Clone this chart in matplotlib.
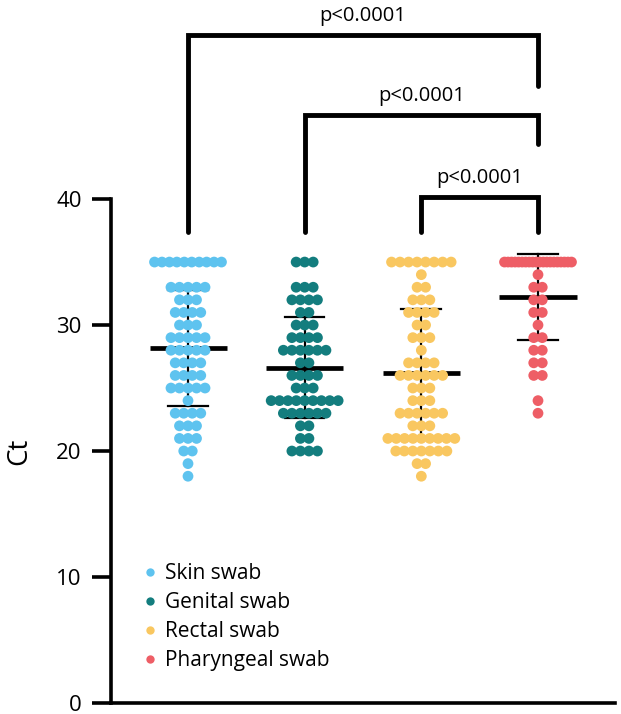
import matplotlib.pyplot as plt
from matplotlib.lines import Line2D
import numpy as np

plt.rcParams['font.family'] = ['Open Sans', 'DejaVu Sans']

# groups and colours
groups = ["Skin swab", "Genital swab", "Rectal swab", "Pharyngeal swab"]
colors = ["#5EC3EF", "#137D7E", "#F9C760", "#EE5E66"]

skin_ct = [35, 33, 32, 31, 30, 29, 28, 27, 26, 25, 24, 23, 22, 21, 20, 19, 18]
skin_n = [10, 5, 3, 4, 3, 5, 5, 4, 4, 5, 1, 4, 3, 3, 2, 1, 1]
genital_ct = [35, 33, 32, 31, 30, 29, 28, 27, 26, 25, 24, 23, 22, 21, 20]
genital_n = [3, 3, 4, 2, 3, 4, 6, 2, 4, 3, 9, 6, 2, 2, 4]
rectal_ct = [35, 34, 33, 32, 31, 30, 29, 28, 27, 26, 25, 24, 23, 22, 21, 20, 19, 18]
rectal_n = [8, 1, 2, 3, 4, 2, 3, 1, 4, 6, 3, 3, 6, 3, 9, 7, 2, 1]
pharyn_ct = [35, 34, 33, 32, 31, 30, 29, 28, 27, 26, 24, 23]
pharyn_n = [20, 1, 2, 2, 2, 1, 2, 2, 2, 2, 1, 1]

# mean and SD per group
group_mean = [28.2, 26.6, 26.2, 32.2]
group_sd = [4.6, 4.0, 5.1, 3.4]

# significance brackets: (left group, right group, bar height, right leg end, label)
brackets = [(1, 4, 53.0, 49.0, "p<0.0001"),
            (2, 4, 46.7, 44.4, "p<0.0001"),
            (3, 4, 40.2, 37.4, "p<0.0001")]
leg_bottom = 37.4

levels = [skin_ct, genital_ct, rectal_ct, pharyn_ct]
counts = [skin_n, genital_n, rectal_n, pharyn_n]


def swarm(ct, n, center, step=0.073, max_half=0.287):
    # lay out each row of equal Ct side by side, squeezing wide rows
    xs, ys = [], []
    for v, k in zip(ct, n):
        s = step
        if k > 1 and (k - 1) * step / 2 > max_half:
            s = 2 * max_half / (k - 1)
        off = (np.arange(k) - (k - 1) / 2) * s
        xs.extend(center + off)
        ys.extend([v] * k)
    return np.array(xs), np.array(ys)


fig = plt.figure(figsize=(6.21, 7.14), dpi=100)
ax = fig.add_axes([111 / 621, 11 / 714, 504 / 621, 703 / 714])

for i in range(4):
    pos = i + 1
    xs, ys = swarm(levels[i], counts[i], pos)
    ax.scatter(xs, ys, s=60, color=colors[i], edgecolors="none", zorder=3)

    m, sd = group_mean[i], group_sd[i]
    ax.plot([pos, pos], [m - sd, m + sd], color="black", lw=1.6, zorder=2)
    ax.plot([pos - 0.17, pos + 0.17], [m - sd] * 2, color="black", lw=1.6, zorder=2)
    ax.plot([pos - 0.17, pos + 0.17], [m + sd] * 2, color="black", lw=1.6, zorder=2)
    ax.plot([pos - 0.33, pos + 0.33], [m, m], color="black", lw=3.4,
            solid_capstyle="butt", zorder=2)

# brackets
for g1, g2, h, r_end, lab in brackets:
    ax.plot([g1, g1, g2, g2], [leg_bottom, h, h, r_end], color="black", lw=3.5,
            solid_joinstyle="miter", solid_capstyle="round", clip_on=False)
    ax.text((g1 + g2) / 2, h + 1.5, lab, ha="center", va="center", fontsize=14.5)

ax.set_xlim(0.34, 4.66)
ax.set_ylim(0, 55.8)
ax.set_xticks([])
ax.set_yticks([0, 10, 20, 30, 40])
ax.tick_params(axis="y", length=14, width=2.6, labelsize=16, pad=7)
ax.spines["top"].set_visible(False)
ax.spines["right"].set_visible(False)
ax.spines["left"].set_bounds(0, 40)
ax.spines["left"].set_linewidth(2.6)
ax.spines["bottom"].set_linewidth(2.6)
ax.set_ylabel("Ct", fontsize=20)
ax.yaxis.set_label_coords(-0.155, 20 / 55.8)

handles = [Line2D([], [], marker="o", linestyle="", markersize=6,
                  markerfacecolor=c, markeredgecolor="none") for c in colors]
ax.legend(handles, groups, loc="upper left", bbox_to_anchor=(0.057, 0.199),
          frameon=False, fontsize=15, handlelength=1.0, handletextpad=0.2,
          labelspacing=0.38, borderpad=0, borderaxespad=0)

fig.savefig("out.png", dpi=100)
